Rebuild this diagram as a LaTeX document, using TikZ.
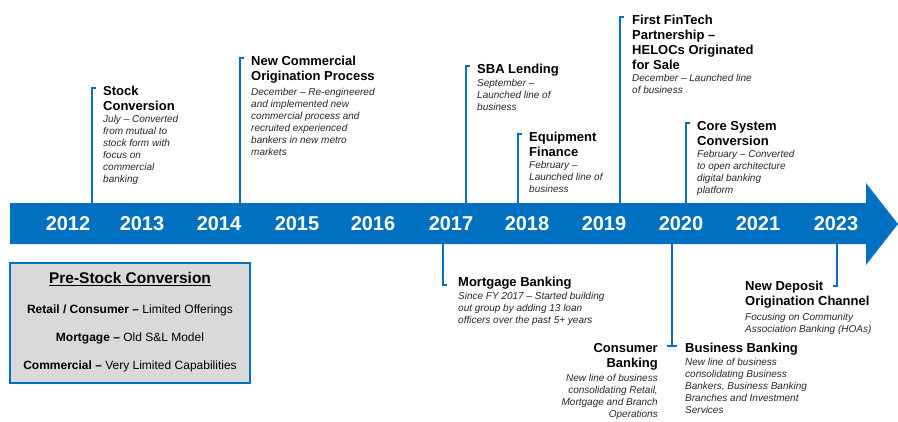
\documentclass[tikz,border=0pt]{standalone}
\usepackage{fontspec}
\setmainfont{Liberation Sans}
\usetikzlibrary{positioning}
\definecolor{tlblue}{HTML}{0070C0}
\definecolor{boxgray}{HTML}{D9D9D9}
\tikzset{
	evttitle/.style={anchor=north west, inner sep=0pt, align=left, font=\bfseries\fontsize{13}{15}\selectfont},
	evtdesc/.style={anchor=north west, inner sep=0pt, align=left, text=black!85, font=\itshape\fontsize{10}{12}\selectfont},
	evtline/.style={draw=tlblue, line width=2.6pt},
	yearlbl/.style={text=white, font=\bfseries\fontsize{20}{22}\selectfont},
	boxline/.style={font=\fontsize{12}{14}\selectfont}
}
\begin{document}
\begin{tikzpicture}[x=1pt,y=-1pt]
	\useasboundingbox (0,0) rectangle (898,421);
	% timeline arrow
	\fill[tlblue] (10,203) -- (866,203) -- (866,183) -- (898,224) -- (866,265) -- (866,244) -- (10,244) -- cycle;
	\foreach \yr/\xx in {2012/68,2013/142,2014/219,2015/297,2016/373,2017/451,2018/527,2019/604,2020/681,2021/758,2023/836}{%
		\node[yearlbl] (y\yr) at (\xx,224) {\yr};
		}
	% events above
	\coordinate (stockTop) at (92,88);
	\coordinate (stockBase) at (92,203);
	\draw[evtline] ([xshift=4pt]stockTop) -- (stockTop) -- (stockBase);
	\node[evttitle] (stockT) at (103,86) {Stock\\Conversion};
	\node[evtdesc] (stockD) at ([yshift=-4pt]stockT.south west) {July – Converted\\from mutual to\\stock form with\\focus on\\commercial\\banking};

	\coordinate (origTop) at (240,58);
	\coordinate (origBase) at (240,203);
	\draw[evtline] ([xshift=4pt]origTop) -- (origTop) -- (origBase);
	\node[evttitle] (origT) at (251,56) {New Commercial\\Origination Process};
	\node[evtdesc] (origD) at ([yshift=-4pt]origT.south west) {December – Re-engineered\\and implemented new\\commercial process and\\recruited experienced\\bankers in new metro\\markets};

	\coordinate (sbaTop) at (466,66);
	\coordinate (sbaBase) at (466,203);
	\draw[evtline] ([xshift=4pt]sbaTop) -- (sbaTop) -- (sbaBase);
	\node[evttitle] (sbaT) at (477,64) {SBA Lending};
	\node[evtdesc] (sbaD) at ([yshift=-2pt]sbaT.south west) {September –\\Launched line of\\business};

	\coordinate (equipTop) at (518,134);
	\coordinate (equipBase) at (518,203);
	\draw[evtline] ([xshift=4pt]equipTop) -- (equipTop) -- (equipBase);
	\node[evttitle] (equipT) at (529,132) {Equipment\\Finance};
	\node[evtdesc] (equipD) at ([yshift=-4pt]equipT.south west) {February –\\Launched line of\\business};

	\coordinate (finTop) at (620,17);
	\coordinate (finBase) at (620,203);
	\draw[evtline] ([xshift=4pt]finTop) -- (finTop) -- (finBase);
	\node[evttitle] (finT) at (632,15) {First FinTech\\Partnership –\\HELOCs Originated\\for Sale};
	\node[evtdesc] (finD) at ([yshift=-4pt]finT.south west) {December – Launched line\\of business};

	\coordinate (coreTop) at (686,123);
	\coordinate (coreBase) at (686,203);
	\draw[evtline] ([xshift=4pt]coreTop) -- (coreTop) -- (coreBase);
	\node[evttitle] (coreT) at (697,121) {Core System\\Conversion};
	\node[evtdesc] (coreD) at ([yshift=-4pt]coreT.south west) {February – Converted\\to open architecture\\digital banking\\platform};

	% events below
	\coordinate (mortBase) at (443,244);
	\coordinate (mortEnd) at (443,285);
	\draw[evtline] (mortBase) -- (mortEnd) -- ([xshift=4pt]mortEnd);
	\node[evttitle] (mortT) at (458,277) {Mortgage Banking};
	\node[evtdesc] (mortD) at ([yshift=-2pt]mortT.south west) {Since FY 2017 – Started building\\out group by adding 13 loan\\officers over the past 5+ years};

	\coordinate (bizBase) at (672,244);
	\coordinate (bizEnd) at (672,346);
	\draw[evtline] (bizBase) -- (bizEnd);
	\draw[evtline] ([xshift=-5pt]bizEnd) -- ([xshift=5pt]bizEnd);
	\node[evttitle] (bizT) at (685,343) {Business Banking};
	\node[evtdesc] (bizD) at ([yshift=-2pt]bizT.south west) {New line of business\\consolidating Business\\Bankers, Business Banking\\Branches and Investment\\Services};
	\node[evttitle, anchor=north east, align=right] (consT) at (658,343) {Consumer\\Banking};
	\node[evtdesc, anchor=north east, align=right] (consD) at ([yshift=-4pt]consT.south east) {New line of business\\consolidating Retail,\\Mortgage and Branch\\Operations};

	\coordinate (depBase) at (837,244);
	\coordinate (depEnd) at (837,286);
	\draw[evtline] (depBase) -- (depEnd) -- ([xshift=-4pt]depEnd);
	\node[evttitle] (depT) at (745,281) {New Deposit\\Origination Channel};
	\node[evtdesc] (depD) at ([yshift=-4pt]depT.south west) {Focusing on Community\\Association Banking (HOAs)};

	% pre-conversion box
	\node[draw=tlblue, line width=2pt, fill=boxgray, minimum width=240pt, minimum height=120pt, inner sep=0pt] (prebox) at (130,323) {};
	\node[font=\bfseries\fontsize{15.5}{17}\selectfont] (preT) at (130,279) {\underline{Pre-Stock Conversion}};
	\node[boxline] (preA) at (130,310) {\textbf{Retail / Consumer –} Limited Offerings};
	\node[boxline] (preB) at (130,338) {\textbf{Mortgage –} Old S\&L Model};
	\node[boxline] (preC) at (130,366) {\textbf{Commercial –} Very Limited Capabilities};
\end{tikzpicture}
\end{document}
